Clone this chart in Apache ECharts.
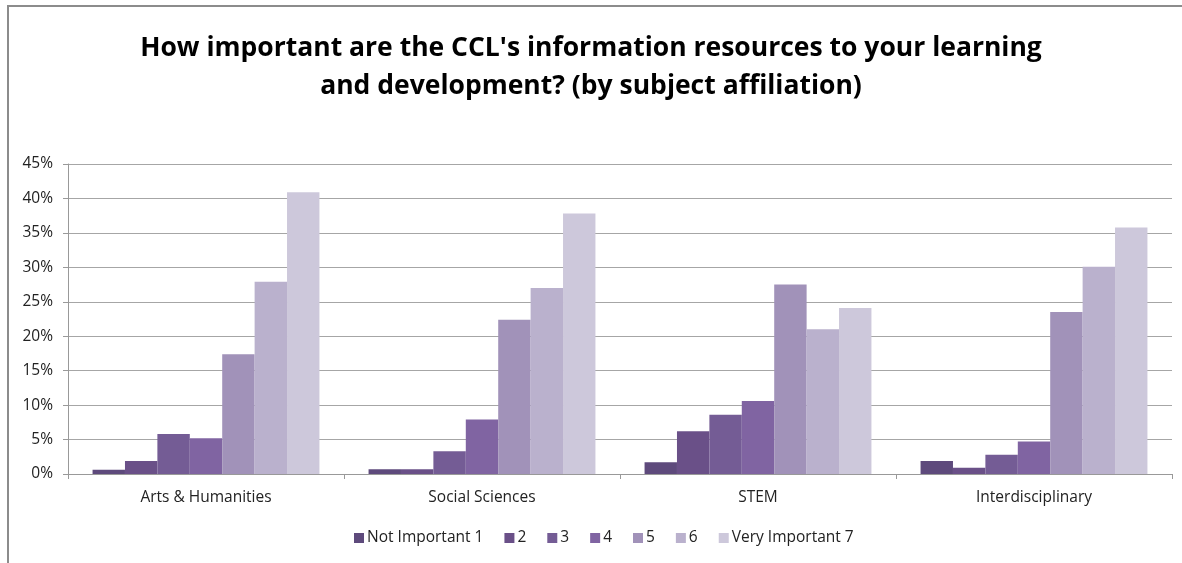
<!DOCTYPE html>
<html>
<head>
<meta charset="utf-8">
<script src="https://cdn.jsdelivr.net/npm/echarts@6/dist/echarts.min.js"></script>
<style>
  html, body { margin: 0; padding: 0; background: #fff; }
  #frame { position: absolute; left: 7px; top: 5px; width: 1200px; height: 600px; border-left: 2px solid #8c8c8c; border-top: 2px solid #8c8c8c; }
  #main { position: absolute; left: 0; top: 0; width: 1182px; height: 563px; }
</style>
</head>
<body>
<div id="frame"></div>
<div id="main"></div>
<script>
const categories = ['Arts & Humanities', 'Social Sciences', 'STEM', 'Interdisciplinary'];
const seriesNames = ['Not Important 1', '2', '3', '4', '5', '6', 'Very Important 7'];
const colors = ['#5e4a7c', '#6a5088', '#745c95', '#8064a2', '#a192b9', '#bab1cd', '#cdc8db'];
// percent per importance rating, one array per rating, ordered like categories
const notImportant1 = [0.6, 0.7, 1.7, 1.9];
const rating2 = [1.9, 0.7, 6.2, 0.9];
const rating3 = [5.8, 3.3, 8.6, 2.8];
const rating4 = [5.2, 7.9, 10.6, 4.7];
const rating5 = [17.4, 22.4, 27.5, 23.5];
const rating6 = [27.9, 27.0, 21.0, 30.1];
const veryImportant7 = [40.9, 37.8, 24.1, 35.8];
const values = [notImportant1, rating2, rating3, rating4, rating5, rating6, veryImportant7];

const font = 'Open Sans, Noto Sans, sans-serif';
const chart = echarts.init(document.getElementById('main'));
chart.setOption({
  animation: false,
  title: {
    text: "How important are the CCL's information resources to your learning\nand development? (by subject affiliation)",
    left: 'center',
    top: 24,
    textStyle: { fontFamily: font, fontSize: 26.5, fontWeight: 'bold', color: '#000', lineHeight: 38 }
  },
  legend: {
    bottom: 12,
    left: 349,
    itemWidth: 10,
    itemHeight: 10,
    itemGap: 21,
    icon: 'rect',
    textStyle: { fontFamily: font, fontSize: 15.5, color: '#222', padding: [0, 0, 0, -2] },
    data: seriesNames
  },
  grid: { left: 68, right: 10, top: 164, bottom: 89, containLabel: false },
  xAxis: {
    type: 'category',
    data: categories,
    axisLine: { lineStyle: { color: '#999', width: 1 } },
    axisTick: { show: true, length: 5, lineStyle: { color: '#999' } },
    axisLabel: { fontFamily: font, fontSize: 15.5, color: '#222', margin: 16 }
  },
  yAxis: {
    type: 'value',
    min: 0,
    max: 45,
    interval: 5,
    axisLine: { show: true, lineStyle: { color: '#999', width: 1 } },
    axisTick: { show: true, length: 5, lineStyle: { color: '#999' } },
    splitLine: { lineStyle: { color: '#a6a6a6', width: 1 } },
    axisLabel: { fontFamily: font, fontSize: 15.5, color: '#222', margin: 15, formatter: '{value}%' }
  },
  series: seriesNames.map((name, i) => ({
    name: name,
    type: 'bar',
    data: values[i],
    barGap: '0%',
    barCategoryGap: '17.8%',
    itemStyle: { color: colors[i] }
  }))
});
</script>
</body>
</html>
